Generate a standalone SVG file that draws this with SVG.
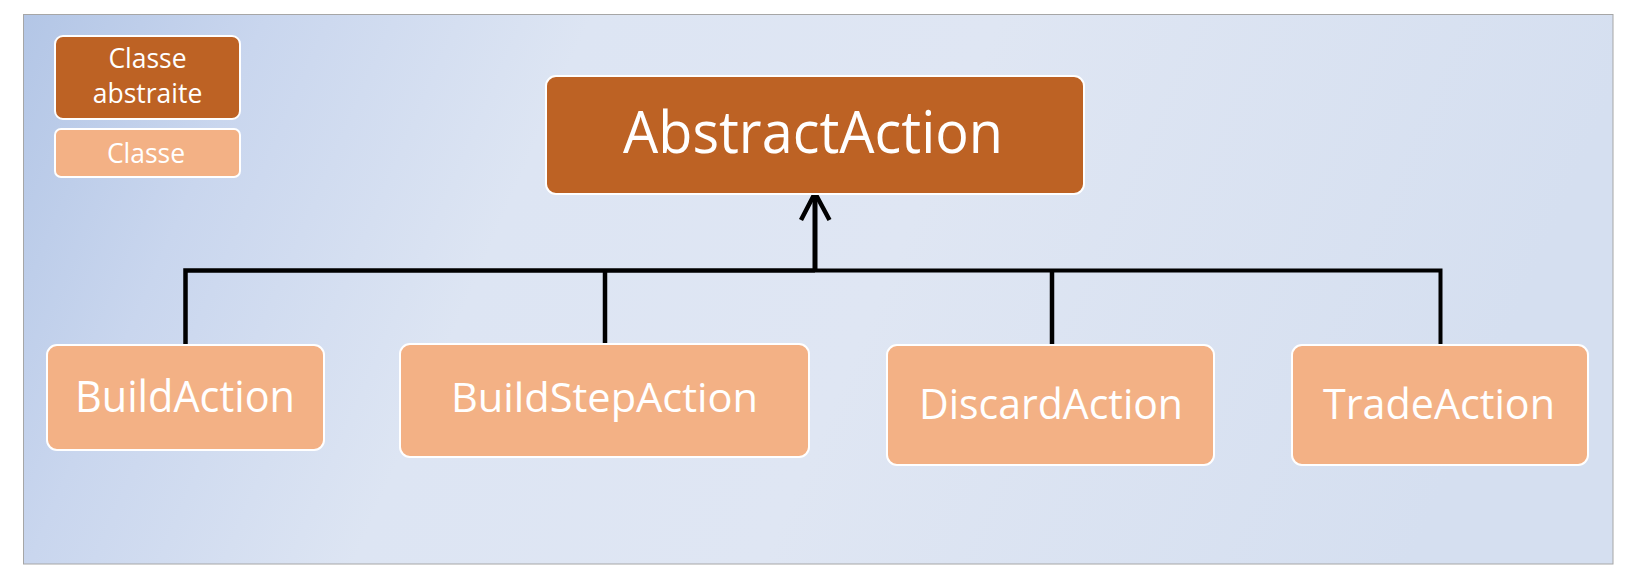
<svg xmlns="http://www.w3.org/2000/svg" width="1639" height="582" viewBox="0 0 1639 582">
  <defs>
    <linearGradient id="bg" x1="0" y1="0" x2="1" y2="0.15">
      <stop offset="0" stop-color="#b3c6e6"/>
      <stop offset="0.15" stop-color="#c9d6ee"/>
      <stop offset="0.35" stop-color="#dde5f3"/>
      <stop offset="0.6" stop-color="#dfe6f3"/>
      <stop offset="1" stop-color="#d5dff0"/>
    </linearGradient>
    <style>
      .abs { fill: #bd6224; stroke: #ffffff; stroke-width: 2; }
      .cls { fill: #f3b185; stroke: #ffffff; stroke-width: 2; }
      .t { fill: #ffffff; font-family: "Open Sans", "Noto Sans", "Liberation Sans", sans-serif; text-anchor: middle; }
      .wire { fill: none; stroke: #000000; stroke-linejoin: miter; stroke-linecap: butt; }
    </style>
  </defs>
  <rect x="0" y="0" width="1639" height="582" fill="#ffffff"/>
  <rect x="23.5" y="14.5" width="1589.5" height="549.5" fill="url(#bg)" stroke="#a6a6a6" stroke-width="1"/>

  <g id="legend-abstract">
    <rect class="abs" x="55" y="36" width="185" height="83" rx="8"/>
    <text class="t" x="147.5" y="68" font-size="26.5">Classe</text>
    <text class="t" x="147.5" y="103" font-size="26.5">abstraite</text>
  </g>
  <g id="legend-class">
    <rect class="cls" x="55" y="129" width="185" height="48" rx="6"/>
    <text class="t" x="146" y="163" font-size="26.5">Classe</text>
  </g>

  <g id="connectors">
    <path class="wire" stroke-width="4.5" d="M185.5 345 V270.5 H815"/>
    <path class="wire" stroke-width="4.5" d="M605 345 V270.5"/>
    <path class="wire" stroke-width="5" d="M815 272 V196"/>
    <path class="wire" stroke-width="4" d="M815 270.5 H1440.5 V345"/>
    <path class="wire" stroke-width="4.5" d="M1052 270.5 V345"/>
    <path class="wire" stroke-width="4.5" stroke-linecap="round" stroke-linejoin="round" d="M801 220 L815 193 L829.5 220"/>
  </g>

  <g id="AbstractAction">
    <rect class="abs" x="546" y="76" width="538" height="118" rx="10"/>
    <text class="t" x="813" y="153" font-size="59" textLength="380" lengthAdjust="spacingAndGlyphs">AbstractAction</text>
  </g>
  <g id="BuildAction">
    <rect class="cls" x="47" y="345" width="277" height="105" rx="10"/>
    <text class="t" x="185" y="412" font-size="43" textLength="220" lengthAdjust="spacingAndGlyphs">BuildAction</text>
  </g>
  <g id="BuildStepAction">
    <rect class="cls" x="400" y="344" width="409" height="113" rx="10"/>
    <text class="t" x="604.5" y="412" font-size="41" textLength="307" lengthAdjust="spacingAndGlyphs">BuildStepAction</text>
  </g>
  <g id="DiscardAction">
    <rect class="cls" x="887" y="345" width="327" height="120" rx="10"/>
    <text class="t" x="1051" y="419" font-size="42" textLength="264" lengthAdjust="spacingAndGlyphs">DiscardAction</text>
  </g>
  <g id="TradeAction">
    <rect class="cls" x="1292" y="345" width="296" height="120" rx="10"/>
    <text class="t" x="1439" y="419" font-size="42" textLength="232" lengthAdjust="spacingAndGlyphs">TradeAction</text>
  </g>
</svg>
